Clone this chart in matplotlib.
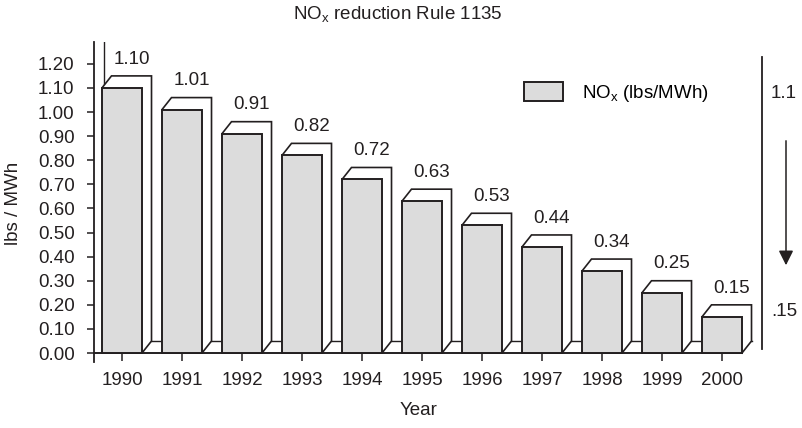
import numpy as np
import matplotlib
matplotlib.use("Agg")
import matplotlib.pyplot as plt
from matplotlib.patches import Polygon, Patch

# data
years = ["1990", "1991", "1992", "1993", "1994", "1995",
         "1996", "1997", "1998", "1999", "2000"]
nox = [1.10, 1.01, 0.91, 0.82, 0.72, 0.63, 0.53, 0.44, 0.34, 0.25, 0.15]
value_labels = ["1.10", "1.01", "0.91", "0.82", "0.72", "0.63",
                "0.53", "0.44", "0.34", "0.25", "0.15"]
yticks = np.arange(0, 1.21, 0.1)
range_start = "1.1"
range_end = ".15"

plt.rcParams["font.family"] = ["Liberation Sans", "DejaVu Sans"]
plt.rcParams["mathtext.fontset"] = "custom"
plt.rcParams["mathtext.rm"] = "Liberation Sans"
plt.rcParams["mathtext.it"] = "Liberation Sans"

ink = "#231f20"
face = "#dcdcdc"
fs = 13.5

W, H = 802, 428
fig = plt.figure(figsize=(W / 100, H / 100), dpi=100)
# axes box in pixels: x 94..762, y 42..362 (from top)
ax = fig.add_axes([94 / W, 1 - 362 / H, (762 - 94) / W, (362 - 42) / H])

x = np.arange(len(years))
w = 0.667
px_x = 60.0   # pixels per category
px_y = 241.0  # pixels per unit
dx = 9.5 / px_x
dy = 12 / px_y

ax.set_xlim((94 - 122) / px_x, (762 - 122) / px_x)
ax.set_ylim(-9 / px_y, 311 / px_y)

# 3D look: white top/side faces behind the front of each bar
for xi, v in zip(x, nox):
    L, R = xi - w / 2, xi + w / 2
    poly = Polygon([(L, v), (L + dx, v + dy), (R + dx, v + dy),
                    (R + dx, dy), (R, 0)],
                   closed=True, facecolor="white", edgecolor=ink,
                   lw=1.2, zorder=2, joinstyle="miter")
    ax.add_patch(poly)

bars = ax.bar(x, nox, width=w, color=face, edgecolor=ink, lw=1.4, zorder=3)

# back wall and floor lines
x0 = ax.get_xlim()[0]
ax.plot([x0 + dx, x0 + dx], [dy, ax.get_ylim()[1]], color=ink, lw=1.0, zorder=1)
ax.plot([x0 + dx, x[-1] + w / 2 + dx], [dy, dy], color=ink, lw=1.0, zorder=1)

# value labels
for xi, v, lab in zip(x, nox, value_labels):
    ax.annotate(lab, (xi + dx, v + dy), xytext=(0, 6), textcoords="offset points",
                ha="center", va="bottom", fontsize=fs, color=ink)

# axes styling
ax.spines["top"].set_visible(False)
ax.spines["left"].set_color(ink)
ax.spines["left"].set_linewidth(1.3)
ax.spines["bottom"].set_position(("data", 0))
ax.spines["bottom"].set_bounds(x0, x[-1] + w / 2)
ax.spines["bottom"].set_color(ink)
ax.spines["bottom"].set_linewidth(1.4)
ax.spines["right"].set_bounds(4 / px_y, 296 / px_y)
ax.spines["right"].set_color(ink)
ax.spines["right"].set_linewidth(1.3)

ax.set_yticks(yticks)
ax.set_yticklabels([f"{t:.2f}" for t in yticks])
ax.set_xticks(x)
ax.set_xticklabels(years)
ax.tick_params(axis="y", direction="out", length=5, width=1.1, color=ink,
               labelsize=fs, labelcolor=ink, pad=9)
ax.tick_params(axis="x", direction="out", length=6, width=1.1, color=ink,
               labelsize=fs, labelcolor=ink, pad=8)

ax.set_ylabel("lbs / MWh", fontsize=fs, color=ink)
ax.yaxis.set_label_coords((22 - 94) / 668, (362 - 203) / 320)
ax.set_xlabel("Year", fontsize=fs, color=ink)
ax.xaxis.set_label_coords((419 - 94) / 668, (362 - 402) / 320)

ax.set_title("NO$_\\mathrm{x}$ reduction Rule 1135", fontsize=fs, color=ink,
             x=(398 - 94) / 668, y=(362 - 19) / 320, pad=0)

# legend
handle = Patch(facecolor=face, edgecolor=ink, lw=1.4)
ax.legend([handle], ["NO$_\\mathrm{x}$ (lbs/MWh)"], loc="center left",
          bbox_to_anchor=(524 / W, 1 - 93 / H), bbox_transform=fig.transFigure,
          frameon=False, fontsize=fs, borderpad=0, borderaxespad=0,
          handlelength=2.1, handleheight=1.2, handletextpad=1.0)

# reduction range annotation on the right
fig.text(771 / W, 1 - 93 / H, range_start, fontsize=fs, color=ink, va="center", ha="left")
fig.text(771 / W, 1 - 312 / H, range_end, fontsize=fs, color=ink, va="center", ha="left")
ax.annotate("", xy=(786 / W, 1 - 268 / H), xytext=(786 / W, 1 - 138 / H),
            xycoords="figure fraction", textcoords="figure fraction",
            arrowprops=dict(arrowstyle="-|>", color=ink, lw=1.1, mutation_scale=22))

plt.savefig("out.png", dpi=100)
